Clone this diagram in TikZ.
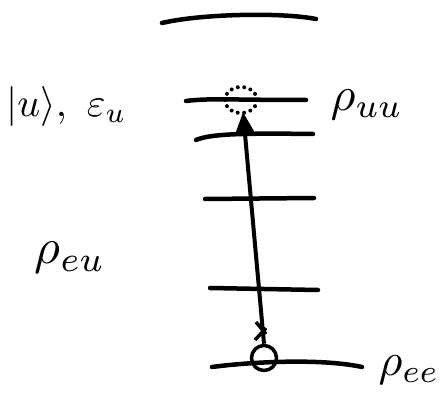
\documentclass[tikz,border=0pt]{standalone}
\usepackage{graphicx}
\usetikzlibrary{arrows.meta,shapes.geometric}
\begin{document}
\begin{tikzpicture}[x=1pt,y=-1pt,
  level/.style={line width=4.5pt,line cap=round},
  lbl/.style={inner sep=0pt},
  trans/.style={line width=4pt,-{Triangle[length=22pt,width=19pt]}}]
\useasboundingbox (0,0) rectangle (440,401);
% levels
\draw[level] (162,23) .. controls (200,14) and (280,12) .. (316,19);
\draw[level] (186,101) .. controls (210,98) and (230,100) .. (306,100);
\draw[level] (196,140) .. controls (210,134) and (240,133) .. (313,134);
\draw[level] (205,199) -- (314,198);
\draw[level] (210,288) -- (318,290);
\draw[level] (212,367) .. controls (250,362) and (320,358) .. (362,367);
% states
\coordinate (top) at (243,112);
\node[draw,circle,line width=3.5pt,minimum size=25pt,inner sep=0pt] (g) at (264,358) {};
\node[draw,ellipse,line width=4pt,line cap=round,dash pattern=on 0pt off 6.5pt,minimum width=32pt,minimum height=26pt,inner sep=0pt] (u) at (241,100) {};
\draw[trans] (g.north) -- (top);
\draw[line width=3.5pt] (256,322) -- (266,334) (255,340) -- (266,328);
% labels
\node[lbl,anchor=west] (lu) at (6,107) {\scalebox{4}{$|u\rangle,\ \varepsilon_u$}};
\node[lbl] (ruu) at (367,105) {\scalebox{4.8}{$\rho_{uu}$}};
\node[lbl] (reu) at (70,258) {\scalebox{5}{$\rho_{eu}$}};
\node[lbl] (ree) at (409,370) {\scalebox{4.6}{$\rho_{ee}$}};
\end{tikzpicture}
\end{document}
